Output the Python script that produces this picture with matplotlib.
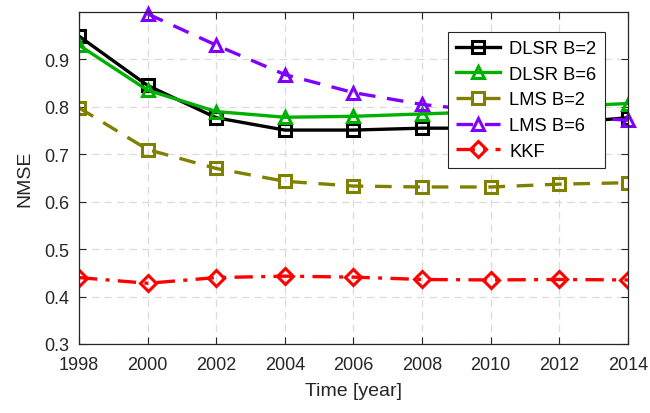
import numpy as np
import matplotlib
matplotlib.use("Agg")
import matplotlib.pyplot as plt

plt.rcParams["font.family"] = ["Liberation Sans", "DejaVu Sans"]

# ------------------------ data ------------------------
YEARS = [1998, 2000, 2002, 2004, 2006, 2008, 2010, 2012, 2014]
DLSR_B2 = [0.949, 0.845, 0.777, 0.751, 0.751, 0.755, 0.755, 0.765, 0.777]
DLSR_B6 = [0.930, 0.835, 0.790, 0.778, 0.780, 0.785, 0.790, 0.800, 0.807]
LMS_B2 = [0.798, 0.710, 0.670, 0.643, 0.633, 0.631, 0.631, 0.637, 0.640]
LMS_B6_YEARS = [2000, 2002, 2004, 2006, 2008, 2010, 2012, 2014]
LMS_B6 = [0.996, 0.930, 0.868, 0.830, 0.805, 0.790, 0.780, 0.772]
KKF = [0.440, 0.428, 0.440, 0.443, 0.441, 0.436, 0.435, 0.436, 0.435]

fig = plt.figure(figsize=(6.5, 4.14), dpi=100)
ax = fig.add_axes([0.1215, 0.1667, 0.8445, 0.802])

lw = 2.4
mk = dict(markersize=9, markerfacecolor="none", markeredgewidth=2.2)
ax.plot(YEARS, DLSR_B2, "-", color="black", marker="s", lw=lw, label="DLSR B=2", **mk)
ax.plot(YEARS, DLSR_B6, "-", color="#00b000", marker="^", lw=lw, label="DLSR B=6", **mk)
ax.plot(YEARS, LMS_B2, color="#808000", marker="s", lw=lw, dashes=(5, 3.5), label="LMS B=2", **mk)
ax.plot(LMS_B6_YEARS, LMS_B6, color="#8000ff", marker="^", lw=lw, dashes=(5, 3.5), label="LMS B=6",
        clip_on=False, **mk)
ax.plot(YEARS, KKF, color="#ff0000", marker="D", lw=lw, dashes=(5.5, 2.5, 1.2, 2.5), label="KKF",
        markersize=8, markerfacecolor="none", markeredgewidth=2.2)

ax.set_xlim(1998, 2014)
ax.set_ylim(0.3, 1.0)
ax.set_xticks(YEARS)
ax.set_yticks([0.3, 0.4, 0.5, 0.6, 0.7, 0.8, 0.9])
ax.grid(True, linestyle=(0, (6, 4)), color="#dcdcdc", linewidth=0.9)
ax.set_axisbelow(True)
ax.tick_params(direction="in", top=True, right=True, labelsize=13, colors="#262626", length=5)
ax.tick_params(axis="x", pad=9)
ax.tick_params(axis="y", pad=7)
for s in ax.spines.values():
    s.set_color("#262626")
    s.set_linewidth(0.9)
ax.set_xlabel("Time [year]", fontsize=14, color="#262626", labelpad=6)
ax.set_ylabel("NMSE", fontsize=14, color="#262626", labelpad=8)

leg = ax.legend(loc="upper right", bbox_to_anchor=(0.958, 0.94), borderaxespad=0,
                fontsize=13.2, fancybox=False, framealpha=1, edgecolor="#262626",
                handlelength=2.4, borderpad=0.45, labelspacing=0.47, handletextpad=0.5)
leg.get_frame().set_linewidth(0.8)

fig.savefig("out.png", dpi=100)
